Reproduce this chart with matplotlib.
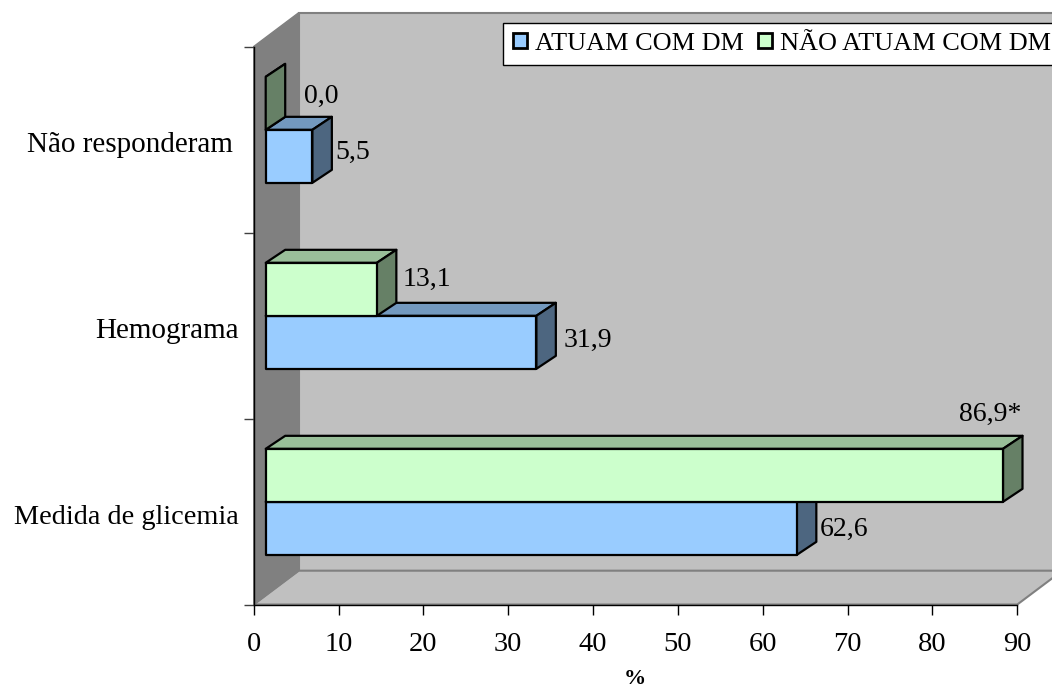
import matplotlib
matplotlib.use('Agg')
import matplotlib.pyplot as plt
from matplotlib.patches import Patch, Polygon

plt.rcParams['font.family'] = ['Liberation Serif', 'DejaVu Serif']

# --- dados ---
categorias = ['Medida de glicemia', 'Hemograma', 'Não responderam']
atuam = [62.6, 31.9, 5.5]
nao_atuam = [86.9, 13.1, 0.0]
sufixo_nao_atuam = ['*', '', '']
x_ticks = [0, 10, 20, 30, 40, 50, 60, 70, 80, 90]
serie_nomes = ['ATUAM COM DM', 'NÃO ATUAM COM DM']

# cores: frente, topo, lado
cor_azul = ('#99CCFF', '#7399BF', '#4D6680')
cor_verde = ('#CCFFCC', '#99BF99', '#668066')

# --- layout (pixels da figura) ---
W, H = 1052, 688
x0_px, x1_px = 253.7, 1017.3
y0_px, y1_px = 604.5, 46.5
PX = 90 / (x1_px - x0_px)   # unidades de valor por pixel
PY = 3 / (y0_px - y1_px)    # unidades de categoria por pixel

fig = plt.figure(figsize=(W / 100, H / 100), dpi=100)
ax = fig.add_axes([x0_px / W, 1 - y0_px / H, (x1_px - x0_px) / W, (y0_px - y1_px) / H])
ax.set_xlim(0, 90)
ax.set_ylim(0, 3)
ax.patch.set_visible(False)

# caixa 3D: parede do fundo, chão, parede esquerda
wall_dx = 45 * PX
wall_dy = 33.8 * PY
ax.add_patch(Polygon([(wall_dx, wall_dy), (90 + wall_dx, wall_dy), (90 + wall_dx, 3 + wall_dy), (wall_dx, 3 + wall_dy)],
                     fc='#C0C0C0', ec='#808080', lw=1.5, clip_on=False, zorder=1))
ax.add_patch(Polygon([(0, 0), (90, 0), (90 + wall_dx, wall_dy), (wall_dx, wall_dy)],
                     fc='#C0C0C0', ec='#808080', lw=1.5, clip_on=False, zorder=1))
ax.add_patch(Polygon([(0, 0), (wall_dx, wall_dy), (wall_dx, 3 + wall_dy), (0, 3)],
                     fc='#808080', ec='#808080', lw=1, clip_on=False, zorder=1))

inset = 12 * PX
dx = 19.5 * PX
dy = 13 * PY
altura = 0.285
base = 0.267


def barra(v, y, cores):
    esq, dir_ = inset, inset + v
    kw = dict(ec='black', lw=1.6, joinstyle='round', clip_on=False, zorder=3)
    ax.add_patch(Polygon([(esq, y + altura), (dir_, y + altura), (dir_ + dx, y + altura + dy), (esq + dx, y + altura + dy)],
                         fc=cores[1], **kw))
    ax.add_patch(Polygon([(dir_, y), (dir_ + dx, y + dy), (dir_ + dx, y + altura + dy), (dir_, y + altura)],
                         fc=cores[2], **kw))
    if v > 0:
        ax.add_patch(Polygon([(esq, y), (dir_, y), (dir_, y + altura), (esq, y + altura)],
                             fc=cores[0], **kw))


for i in range(len(categorias)):
    barra(atuam[i], i + base, cor_azul)
    barra(nao_atuam[i], i + base + altura, cor_verde)

# rótulos de dados: deslocamento em pixels a partir do fim da barra
desl_atuam = [(3.5, 1), (8, -2), (3, -4)]
desl_nao = [(-32, -61), (6, -10), (19, -6.5)]
LABEL_FS = 20


def rotulo(v, y, sufixo, d, ha='left'):
    ax.annotate(f'{v:.1f}'.replace('.', ',') + sufixo,
                xy=(inset + v + dx, y + altura / 2),
                xytext=(d[0] * 0.72, -d[1] * 0.72), textcoords='offset points',
                ha=ha, va='center', fontsize=LABEL_FS, color='black', zorder=5, annotation_clip=False)


for i in range(len(categorias)):
    rotulo(atuam[i], i + base, '', desl_atuam[i])
    rotulo(nao_atuam[i], i + base + altura, sufixo_nao_atuam[i], desl_nao[i],
           ha='center' if i == 0 else 'left')

# eixos
for s in ('top', 'right'):
    ax.spines[s].set_visible(False)
ax.spines['left'].set_linewidth(1.0)
ax.spines['bottom'].set_linewidth(1.0)
ax.spines['left'].set_zorder(2)
ax.spines['bottom'].set_zorder(2)
ax.set_xticks(x_ticks)
ax.set_xticklabels([str(t) for t in x_ticks])
ax.set_yticks([0, 1, 2, 3])
ax.set_yticklabels([])
ax.tick_params(axis='x', length=7.5, width=1, labelsize=20.5, pad=12.5)
ax.tick_params(axis='y', length=7.5, width=1, color='#404040')
ax.set_xlabel('%', fontsize=16, fontweight='bold', labelpad=8.5, x=(635 - x0_px) / (x1_px - x0_px))

# nomes das categorias
fim_px = [238.5, 238.5, 232.5]
tam_cat = [20.3, 21, 21]
for i, nome in enumerate(categorias):
    ax.annotate(nome, xy=(0, i + 0.5), xytext=((fim_px[i] - x0_px) * 0.72, -12.7 * 0.72),
                textcoords='offset points', ha='right', va='baseline', fontsize=tam_cat[i], annotation_clip=False)

# legenda
handles = [Patch(fc=cor_azul[0], ec='black', lw=2), Patch(fc=cor_verde[0], ec='black', lw=2)]
leg = ax.legend(handles, serie_nomes, ncol=2, loc='lower left',
                bbox_to_anchor=(503.3 / W, 1 - 65 / H), bbox_transform=fig.transFigure,
                fontsize=18.9, frameon=True, fancybox=False, framealpha=1, edgecolor='black',
                handlelength=0.53, handleheight=0.53, handletextpad=0.3, columnspacing=0.53,
                borderpad=0.38, borderaxespad=0)
leg.set_zorder(6)
leg.get_frame().set_linewidth(1)

fig.savefig('out.png', dpi=100)
